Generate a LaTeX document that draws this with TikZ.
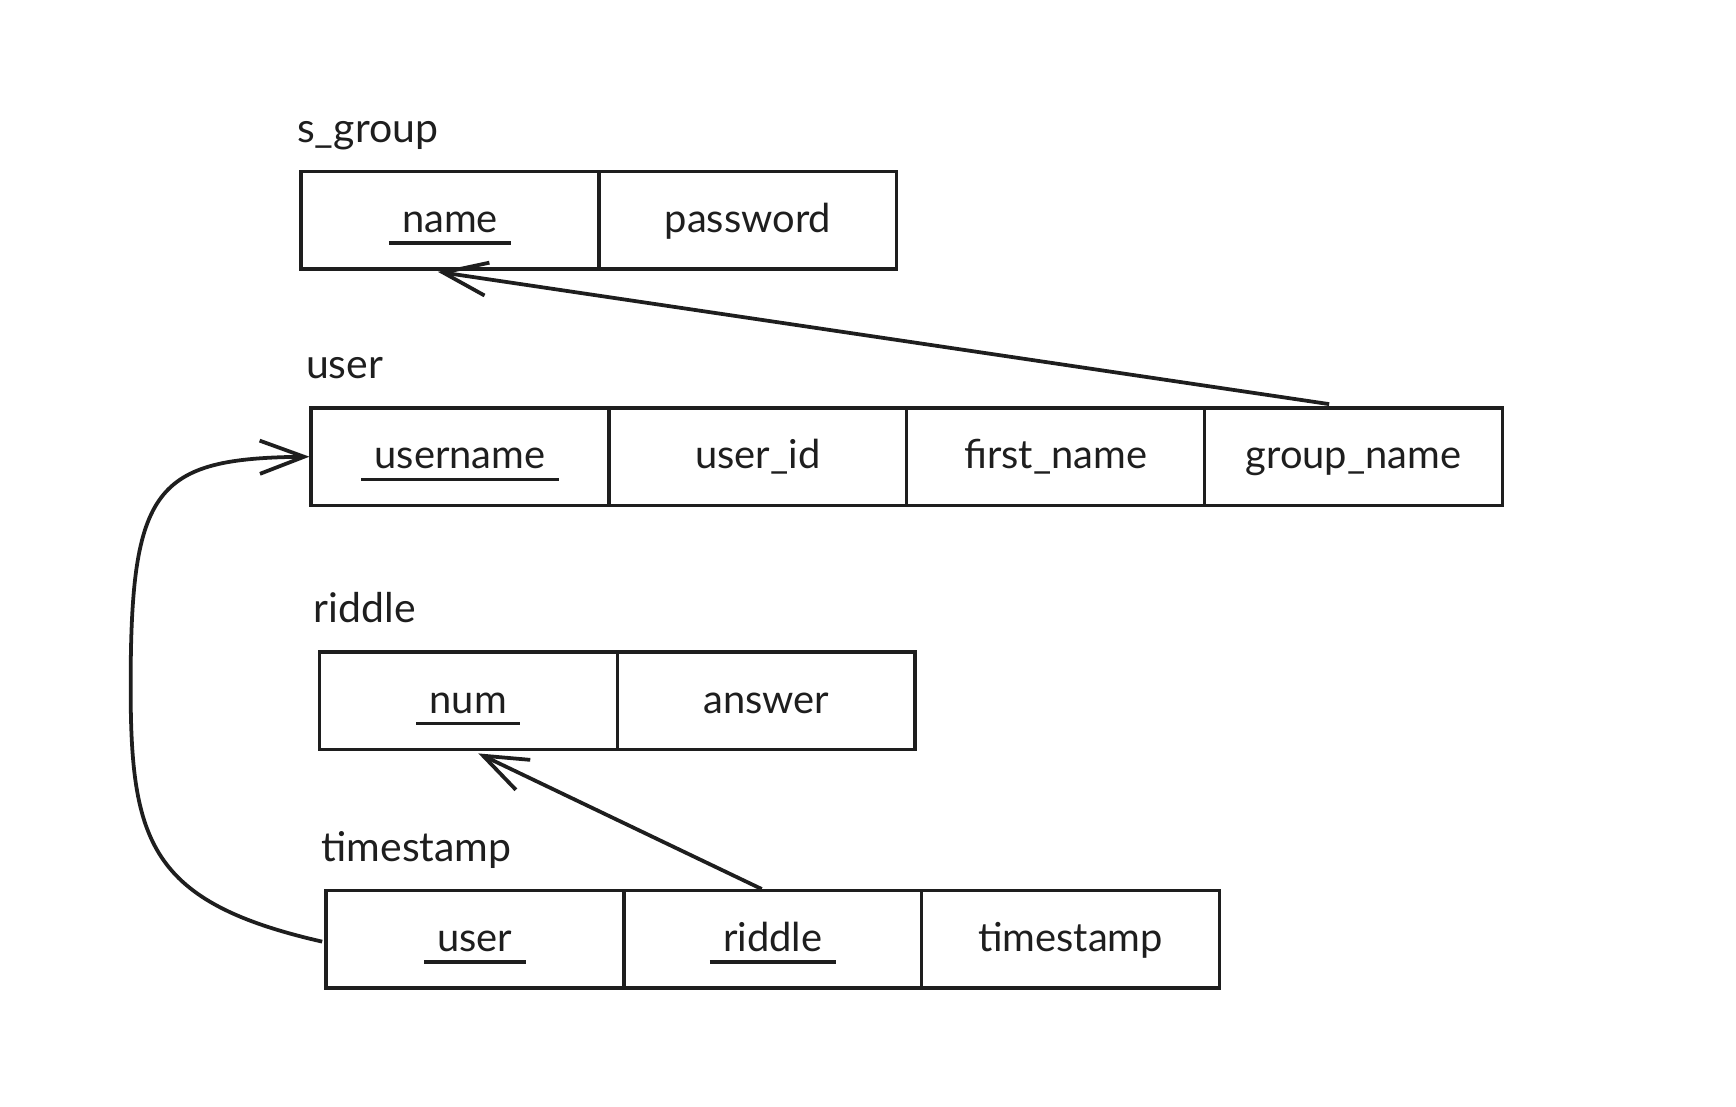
\documentclass[tikz,border=0pt]{standalone}
\usepackage{fontspec}
\setmainfont{Lato}
\usetikzlibrary{arrows.meta,calc}
\definecolor{ink}{HTML}{1E1E1E}
\newcommand{\pkey}[1]{{\setbox0\hbox{#1}\rlap{\kern-6pt\raisebox{-5.5pt}{\color{ink}\rule{\dimexpr\wd0+12pt\relax}{1.6pt}}}\box0}}
\tikzset{
  cell/.style={draw=ink, line width=1.5pt, rectangle, minimum width=134.5pt, minimum height=44pt, inner sep=0pt,
    text height=13pt, text depth=2pt, font=\fontsize{18}{21}\selectfont, text=ink},
  tlabel/.style={anchor=base west, inner sep=0pt, font=\fontsize{18.5}{21}\selectfont, text=ink},
  conn/.style={draw=ink, line width=1.7pt, -{Straight Barb[length=20pt, width=15pt, line width=1.7pt]}},
}
\begin{document}
\begin{tikzpicture}[x=0.5pt, y=-0.5pt]
\useasboundingbox (0,0) rectangle (1568,999);

% s_group
\node[tlabel] (lsg) at (268,129) {s\_group};
\node[cell] (sgname) at (406.5,199) {\pkey{name}};
\node[cell] (sgpw) at (675.5,199) {password};

% user
\node[tlabel] (lu) at (276,342) {user};
\node[cell] (uname) at (415.5,412.5) {\pkey{username}};
\node[cell] (uid) at (684.5,412.5) {user\_id};
\node[cell] (ufirst) at (953.5,412.5) {first\_name};
\node[cell] (ugroup) at (1222.5,412.5) {group\_name};

% riddle
\node[tlabel] (lr) at (283,562) {riddle};
\node[cell] (rnum) at (423,633) {\pkey{num}};
\node[cell] (rans) at (692,633) {answer};

% timestamp
\node[tlabel] (lt) at (290,778) {timestamp};
\node[cell] (tuser) at (429,848.5) {\pkey{user}};
\node[cell] (triddle) at (698,848.5) {\pkey{riddle}};
\node[cell] (tts) at (967,848.5) {timestamp};

% connectors
\draw[conn] ($(ugroup.north)+(-22,-2)$) -- ($(sgname.south)+(-11,1)$);
\draw[conn] ($(triddle.north)+(-10,0)$) -- ($(rnum.south)+(9,2)$);
\draw[conn] ($(tuser.west)+(-2,2)$) .. controls (135,815) and (118,760) .. (118,620)
  .. controls (118,440) and (140,414) .. (uname.west);
\end{tikzpicture}
\end{document}
